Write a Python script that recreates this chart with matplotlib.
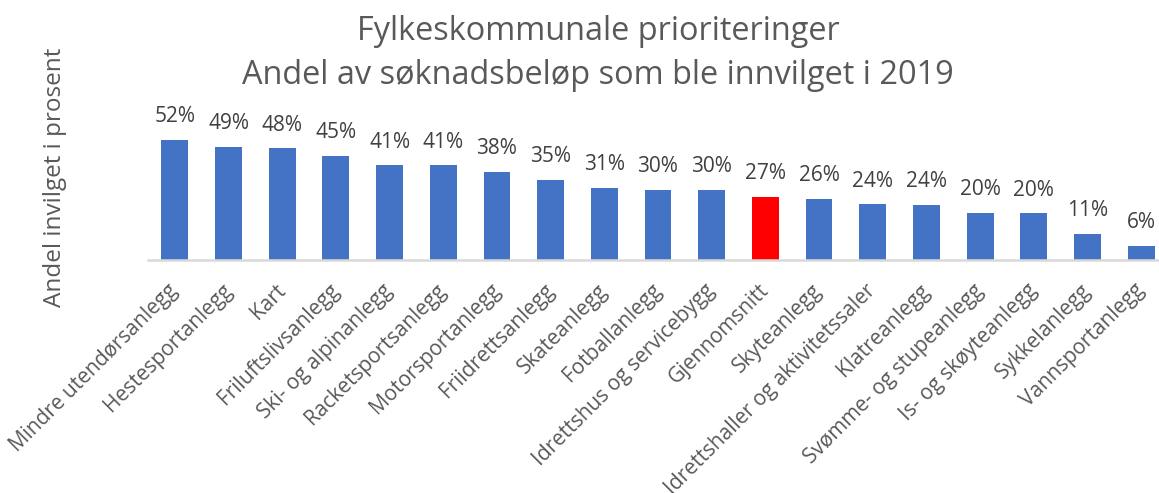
import matplotlib
matplotlib.use("Agg")
import matplotlib.pyplot as plt

categories = ["Mindre utendørsanlegg", "Hestesportanlegg", "Kart", "Friluftslivsanlegg",
              "Ski- og alpinanlegg", "Racketsportsanlegg", "Motorsportanlegg", "Friidrettsanlegg",
              "Skateanlegg", "Fotballanlegg", "Idrettshus og servicebygg", "Gjennomsnitt",
              "Skyteanlegg", "Idrettshaller og aktivitetssaler", "Klatreanlegg",
              "Svømme- og stupeanlegg", "Is- og skøyteanlegg", "Sykkelanlegg", "Vannsportanlegg"]
values = [52.0, 48.8, 48.2, 44.8, 40.8, 40.8, 37.9, 34.6, 31.1, 30.3, 30.1, 27.1,
          26.4, 23.9, 23.6, 20.1, 20.0, 11.0, 5.9]
highlight = "Gjennomsnitt"

title_line1 = "Fylkeskommunale prioriteringer"
title_line2 = "Andel av søknadsbeløp som ble innvilget i 2019"
ylabel = "Andel invilget i prosent"

plt.rcParams['font.family'] = ['Open Sans', 'DejaVu Sans']

W, H = 1159, 493
fig = plt.figure(figsize=(W / 100, H / 100), dpi=100)
ymax = 60
ax_left = 148 / W
ax_right = 1168 / W
ax_bottom = 1 - 259.5 / H
ax_height = (120 / 52 * ymax) / H
ax = fig.add_axes([ax_left, ax_bottom, ax_right - ax_left, ax_height])

colors = ["#FF0000" if c == highlight else "#4472C4" for c in categories]
x = list(range(len(categories)))
bars = ax.bar(x, values, width=0.5, color=colors)
ax.set_xlim(-0.5, len(categories) - 0.5)
ax.set_ylim(0, ymax)

for b, v in zip(bars, values):
    ax.annotate(f"{v:.0f}%", (b.get_x() + b.get_width() / 2, v), xytext=(0, 12.7),
                textcoords="offset points", ha="center", va="baseline",
                fontsize=15, color="#404040")

ax.set_xticks(x)
ax.set_xticklabels(categories, rotation=45, ha="right", rotation_mode="anchor",
                   fontsize=15, color="#595959")
ax.tick_params(axis="x", length=0, pad=20)
for lbl in ax.get_xticklabels():
    lbl.set_va("center")
ax.set_yticks([])
for s in ["top", "right", "left"]:
    ax.spines[s].set_visible(False)
ax.spines["bottom"].set_color("#D9D9D9")
ax.spines["bottom"].set_linewidth(1.8)

fig.text(598 / W, 1 - 40 / H, title_line1, ha="center", va="baseline", fontsize=23.4,
         color="#595959")
fig.text(598 / W, 1 - 84 / H, title_line2, ha="center", va="baseline", fontsize=23.4,
         color="#595959")
fig.text(55 / W, 1 - 177 / H, ylabel, rotation=90, ha="center", va="center",
         fontsize=17.5, color="#595959")

fig.savefig("out.png", dpi=100)
